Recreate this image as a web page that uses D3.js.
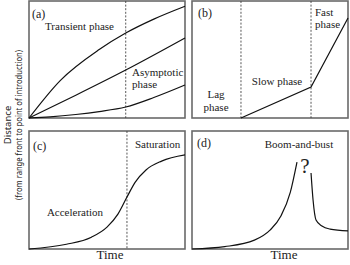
<!DOCTYPE html>
<html><head><meta charset="utf-8">
<script src="https://cdn.jsdelivr.net/npm/d3@7"></script>
<style>html,body{margin:0;padding:0;background:#fff;}svg{display:block;}</style>
</head><body>
<svg id="chart" width="350" height="265"></svg>
<script>
// ---- data (time units 0-10, distance units 0-10) ----
const panelLabels = ["(a)", "(b)", "(c)", "(d)"];
const yAxisTitle = "Distance";
const yAxisSubtitle = "(from range front to point of introduction)";
const xAxisTitle = "Time";

// panel (a)
const aTransient = [[0,0],[2,3.2],[4.5,5.85],[6.2,7.26],[8,8.45],[10,9.55]];
const aLinear    = [[0,0],[3,1.95],[6.2,4.1],[10,6.84]];
const aSlow      = [[0,0],[1.35,0.1],[3,0.3],[4.5,0.55],[6.2,0.94],[8,1.75],[10,2.82]];
const aDivider   = [6.2];
// panel (b)
const bPhases    = [[3.14,0],[7.63,2.65],[10,8.55]];
const bDividers  = [3.14, 7.63];
// panel (c)
const cSigmoid   = [[0,0],[2.4,0.4],[4,1.0],[5,1.85],[5.7,2.95],[6.28,4.4],[6.8,5.65],[7.5,6.7],[8.5,7.45],[10,7.97]];
const cDivider   = [6.28];
// panel (d)
const dBoom      = [[0,0],[2.1,0.2],[4,0.75],[5,1.6],[5.7,2.8],[6.3,4.8],[6.73,7.37]];
const dBust      = [[7.63,6.44],[7.76,4.15],[7.95,2.46],[8.33,1.95],[8.85,1.69],[10,1.53]];

const svg = d3.select("#chart");
const serif = "'Liberation Serif', 'DejaVu Serif', serif";

const panels = [
  {x0:29,  x1:185, y0:1,   y1:118},
  {x0:192, x1:348, y0:1,   y1:118},
  {x0:29,  x1:185, y0:131, y1:249},
  {x0:192, x1:348, y0:131, y1:249}
];
panels.forEach(p => {
  p.x = d3.scaleLinear().domain([0,10]).range([p.x0, p.x1]);
  p.y = d3.scaleLinear().domain([0,10]).range([p.y1, p.y0]);
});

function frame(p, label, lx, ly) {
  svg.append("rect").attr("x", p.x0).attr("y", p.y0)
    .attr("width", p.x1 - p.x0).attr("height", p.y1 - p.y0)
    .attr("fill", "none").attr("stroke", "#6a6a6a").attr("stroke-width", 1.6);
  text(lx, ly, label, 12, "start");
}
function divider(p, t) {
  svg.append("line").attr("x1", p.x(t)).attr("x2", p.x(t))
    .attr("y1", p.y0).attr("y2", p.y1)
    .attr("stroke", "#444").attr("stroke-width", 0.9).attr("stroke-dasharray", "2,1.6");
}
function curve(p, data, c) {
  const line = d3.line().x(d => p.x(d[0])).y(d => p.y(d[1])).curve(c || d3.curveMonotoneX);
  svg.append("path").attr("d", line(data)).attr("fill", "none")
    .attr("stroke", "#111").attr("stroke-width", 1.2);
}
function text(x, y, s, size, anchor) {
  return svg.append("text").attr("x", x).attr("y", y).text(s)
    .attr("font-family", serif).attr("font-size", size)
    .attr("text-anchor", anchor || "start").attr("fill", "#222");
}

// (a)
let p = panels[0];
frame(p, panelLabels[0], 32, 18);
aDivider.forEach(t => divider(p, t));
curve(p, aTransient); curve(p, aLinear); curve(p, aSlow);
text(45, 30, "Transient phase", 11);
text(132, 76, "Asymptotic", 11);
text(132, 88, "phase", 11);

// (b)
p = panels[1];
frame(p, panelLabels[1], 198, 17);
bDividers.forEach(t => divider(p, t));
curve(p, bPhases, d3.curveLinear);
text(216, 98, "Lag", 11, "middle");
text(216, 111, "phase", 11, "middle");
text(277, 85, "Slow phase", 11, "middle");
text(315, 16, "Fast", 11);
text(315, 28, "phase", 11);

// (c)
p = panels[2];
frame(p, panelLabels[2], 33, 150);
cDivider.forEach(t => divider(p, t));
curve(p, cSigmoid);
text(135, 148, "Saturation", 11);
text(75, 216, "Acceleration", 11, "middle");

// (d)
p = panels[3];
frame(p, panelLabels[3], 197, 147);
curve(p, dBoom);
curve(p, dBust);
text(299, 148, "Boom-and-bust", 11, "middle");
text(305, 173, "?", 21, "middle");

// axis titles
text(110, 259, xAxisTitle, 13, "middle");
text(284, 259, xAxisTitle, 13, "middle");
svg.append("text").attr("transform", "translate(11,125) rotate(-90)")
  .attr("text-anchor", "middle").attr("font-family", "'Noto Sans', 'DejaVu Sans', sans-serif")
  .attr("font-size", 9.5).attr("fill", "#222").text(yAxisTitle);
svg.append("text").attr("transform", "translate(22,125) rotate(-90)")
  .attr("text-anchor", "middle").attr("font-family", "'Noto Sans', 'DejaVu Sans', sans-serif")
  .attr("font-size", 9.5).attr("fill", "#222")
  .attr("textLength", 150).attr("lengthAdjust", "spacingAndGlyphs").text(yAxisSubtitle);
</script>
</body></html>
